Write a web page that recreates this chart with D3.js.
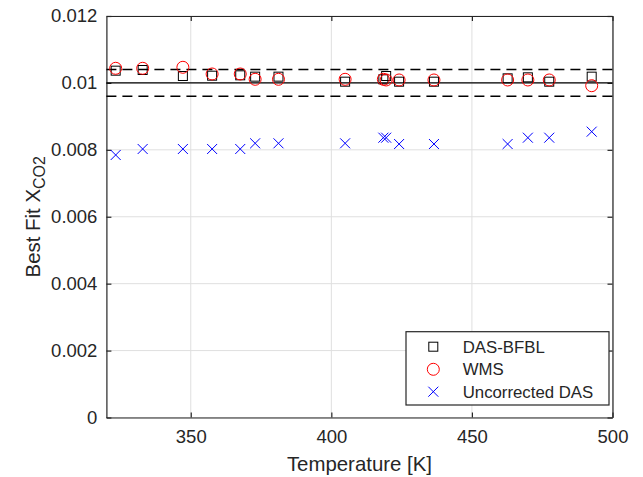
<!DOCTYPE html>
<html><head><meta charset="utf-8">
<script src="https://cdn.jsdelivr.net/npm/d3@7"></script>
<style>body{margin:0;background:#fff}svg{display:block}text{font-family:"Liberation Sans",Arial,Helvetica,sans-serif;fill:#262626}</style>
</head><body>
<svg id="c" width="643" height="477"></svg>
<script>
const temperature = [323.3, 332.9, 347.2, 357.6, 367.6, 372.9, 381.2, 404.9, 418.5, 419.5, 424.1, 436.5, 462.7, 469.9, 477.5, 492.6];
const dasBfbl = [0.010366, 0.010386, 0.010207, 0.010216, 0.010227, 0.010187, 0.010187, 0.010037, 0.010108, 0.010207, 0.010037, 0.010037, 0.010137, 0.010167, 0.010037, 0.010187];
const wms = [0.010437, 0.010437, 0.010467, 0.010267, 0.010267, 0.010108, 0.010108, 0.010108, 0.010108, 0.010088, 0.010088, 0.010088, 0.010088, 0.010088, 0.010088, 0.009917];
const uncorrectedDas = [0.007846, 0.008025, 0.008025, 0.008025, 0.008025, 0.008195, 0.008195, 0.008195, 0.008363, 0.008363, 0.008174, 0.008174, 0.008174, 0.008363, 0.008363, 0.008543];
const refLine = 0.01;
const refBand = [0.0096, 0.0104];
const xTicks = [350, 400, 450, 500];
const yTicks = [0, 0.002, 0.004, 0.006, 0.008, 0.01, 0.012];
const legendLabels = ["DAS-BFBL", "WMS", "Uncorrected DAS"];

const L = 106.4, R = 612.5, T = 16, B = 417.5;
const x = d3.scaleLinear().domain([320, 500]).range([L, R]);
const y = d3.scaleLinear().domain([0, 0.012]).range([B, T]);
const svg = d3.select("#c");
const axisColor = "#262626";

// grid
const g = svg.append("g");
g.selectAll(".gx").data(xTicks).enter().append("line")
  .attr("x1", d => x(d)).attr("x2", d => x(d)).attr("y1", T).attr("y2", B)
  .attr("stroke", "#dfdfdf").attr("stroke-width", 1);
g.selectAll(".gy").data(yTicks).enter().append("line")
  .attr("x1", L).attr("x2", R).attr("y1", d => y(d)).attr("y2", d => y(d))
  .attr("stroke", "#dfdfdf").attr("stroke-width", 1);

// axes
const fmt = d => d === 0 ? "0" : String(+d.toPrecision(3));
const xAxis = d3.axisBottom(x).tickValues(xTicks).tickSizeInner(-5).tickSizeOuter(0).tickPadding(12).tickFormat(d3.format("d"));
const yAxis = d3.axisLeft(y).tickValues(yTicks).tickSizeInner(-5).tickSizeOuter(0).tickPadding(9).tickFormat(fmt);
const xa = svg.append("g").attr("transform", `translate(0,${B})`).call(xAxis);
const ya = svg.append("g").attr("transform", `translate(${L},0)`).call(yAxis);
const xTop = svg.append("g").attr("transform", `translate(0,${T})`).call(d3.axisTop(x).tickValues(xTicks).tickSizeInner(-5).tickSizeOuter(0).tickFormat(""));
const yRight = svg.append("g").attr("transform", `translate(${R},0)`).call(d3.axisRight(y).tickValues(yTicks).tickSizeInner(-5).tickSizeOuter(0).tickFormat(""));
[xa, ya, xTop, yRight].forEach(a => {
  a.select(".domain").attr("stroke", axisColor).attr("stroke-width", 1.2);
  a.selectAll(".tick line").attr("stroke", axisColor).attr("stroke-width", 1.2);
  a.selectAll(".tick text").attr("fill", axisColor).style("font-size", "18.5px").style("font-family", '"Liberation Sans",Arial,sans-serif');
});

// reference lines
const refs = svg.append("g");
refs.append("line").attr("x1", L).attr("x2", R).attr("y1", y(refLine)).attr("y2", y(refLine))
  .attr("stroke", "#000").attr("stroke-width", 1.4);
refs.selectAll(".band").data(refBand).enter().append("line")
  .attr("x1", L).attr("x2", R).attr("y1", d => y(d)).attr("y2", d => y(d))
  .attr("stroke", "#000").attr("stroke-width", 1.4).attr("stroke-dasharray", "10,6");

// markers
const sq = 9, cr = 6, xs = 5;
const m = svg.append("g");
m.selectAll(".sq").data(temperature).enter().append("rect")
  .attr("x", (d, i) => x(d) - sq / 2).attr("y", (d, i) => y(dasBfbl[i]) - sq / 2)
  .attr("width", sq).attr("height", sq).attr("fill", "none").attr("stroke", "#000").attr("stroke-width", 1);
m.selectAll(".ci").data(temperature).enter().append("circle")
  .attr("cx", d => x(d)).attr("cy", (d, i) => y(wms[i])).attr("r", cr)
  .attr("fill", "none").attr("stroke", "#ff0000").attr("stroke-width", 1);
m.selectAll(".xm").data(temperature).enter().append("path")
  .attr("d", (d, i) => { const cx = x(d), cy = y(uncorrectedDas[i]); return `M${cx-xs},${cy-xs}L${cx+xs},${cy+xs}M${cx-xs},${cy+xs}L${cx+xs},${cy-xs}`; })
  .attr("fill", "none").attr("stroke", "#0000ff").attr("stroke-width", 1);

// axis labels
svg.append("text").attr("x", (L + R) / 2).attr("y", 471).attr("text-anchor", "middle")
  .style("font-size", "20.4px").text("Temperature [K]");
const yl = svg.append("text").attr("transform", `translate(40,${(T + B) / 2}) rotate(-90)`).attr("text-anchor", "middle")
  .style("font-size", "20.4px");
yl.append("tspan").text("Best Fit X");
yl.append("tspan").attr("dy", 5).style("font-size", "16px").text("CO2");

// legend
const lg = svg.append("g");
const lx = 406, ly = 331.7, lw = 203, lh = 73.3;
lg.append("rect").attr("x", lx).attr("y", ly).attr("width", lw).attr("height", lh)
  .attr("fill", "#fff").attr("stroke", axisColor).attr("stroke-width", 1.2);
const rowY = [346.7, 369.3, 391.7];
const mx = 433.3;
lg.append("rect").attr("x", mx - sq / 2).attr("y", rowY[0] - sq / 2).attr("width", sq).attr("height", sq)
  .attr("fill", "none").attr("stroke", "#000");
lg.append("circle").attr("cx", mx).attr("cy", rowY[1]).attr("r", cr).attr("fill", "none").attr("stroke", "#ff0000");
lg.append("path").attr("d", `M${mx-xs},${rowY[2]-xs}L${mx+xs},${rowY[2]+xs}M${mx-xs},${rowY[2]+xs}L${mx+xs},${rowY[2]-xs}`)
  .attr("fill", "none").attr("stroke", "#0000ff");
lg.selectAll(".lt").data(legendLabels).enter().append("text")
  .attr("x", 462.7).attr("y", (d, i) => rowY[i]).attr("dy", "0.35em")
  .style("font-size", "16.8px").attr("fill", "#000").text(d => d);
</script>
</body></html>
